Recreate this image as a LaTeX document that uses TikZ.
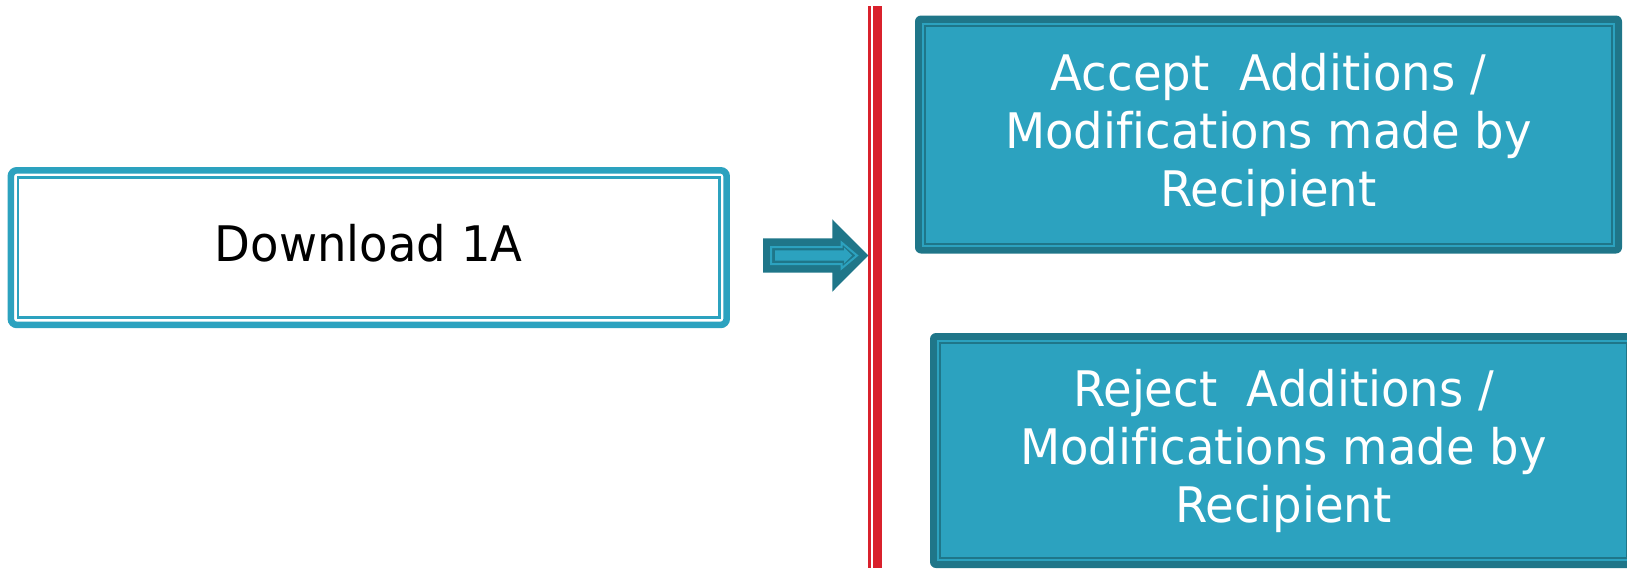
\documentclass[tikz,border=0pt]{standalone}
\usepackage{fontspec}
\setmainfont[FakeStretch=0.95, Ligatures=NoCommon]{DejaVu Sans}
\definecolor{ltteal}{HTML}{2CA2BF}
\definecolor{dkteal}{HTML}{1F7689}
\definecolor{rulered}{HTML}{D9212C}
\begin{document}
\begin{tikzpicture}[x=0.5pt,y=-0.5pt,
  labelfont/.style={font=\fontsize{24.5pt}{29pt}\selectfont},
  % white box with a thick teal frame and a thin inner teal rule
  whitebox/.style={labelfont, draw=ltteal, line width=3.3pt, fill=white,
    rounded corners=3pt, inner sep=0pt,
    minimum width=357.9pt, minimum height=77.3pt, text=black,
    text height=18.9pt, text depth=5.5pt,
    path picture={\draw[ltteal, line width=1.25pt, sharp corners]
      ([shift={(3.6pt,-3.6pt)}]path picture bounding box.north west) rectangle
      ([shift={(-3.6pt,3.6pt)}]path picture bounding box.south east);}},
  % filled teal box: dark rim, light band, thin dark rule, light body
  tealbox/.style={labelfont, fill=dkteal, draw=none, rounded corners=3pt,
    inner sep=0pt, minimum width=353.5pt, text=white, align=center,
    path picture={
      \fill[ltteal, sharp corners]
        ([shift={(3.5pt,-3.5pt)}]path picture bounding box.north west) rectangle
        ([shift={(-3.5pt,3.5pt)}]path picture bounding box.south east);
      \draw[dkteal, line width=1pt, sharp corners]
        ([shift={(5pt,-5pt)}]path picture bounding box.north west) rectangle
        ([shift={(-5pt,5pt)}]path picture bounding box.south east);}}
]
\useasboundingbox (0,0) rectangle (1627,568);

% boxes
\node[whitebox] (dl) at (368.75,247.6) {Download 1A};
\node[tealbox, minimum height=119pt] (acc) at (1268.5,134.5)
  {Accept~ Additions /\\Modifications made by\\Recipient};
\node[tealbox, minimum height=117.5pt] (rej) at (1283.5,450.5)
  {Reject~ Additions /\\Modifications made by\\Recipient};

% red divider: thin rule beside a thick rule
\coordinate (rtop) at (877.5,6);
\coordinate (rbot) at (877.5,568);
\draw[rulered, line width=4.1pt] (rtop) -- (rbot);
\draw[rulered, line width=1.5pt] ([xshift=-3.9pt]rtop) -- ([xshift=-3.9pt]rbot);

% block arrow pointing at the divider
\fill[dkteal] (763,238.3) -- (832.3,238.3) -- (832.3,219.3) -- (868.3,255.5)
  -- (832.3,291.7) -- (832.3,272.7) -- (763,272.7) -- cycle;
\draw[ltteal, line width=1pt, line join=miter]
  (771,247) -- (841.5,247) -- (841.5,242.5) -- (857,255.5) -- (841.5,268.5)
  -- (841.5,264) -- (771,264) -- cycle;
\fill[ltteal] (775,250.3) -- (844,250.3) -- (844,247.5) -- (852,255.5)
  -- (844,263.5) -- (844,260.7) -- (775,260.7) -- cycle;
\end{tikzpicture}
\end{document}
